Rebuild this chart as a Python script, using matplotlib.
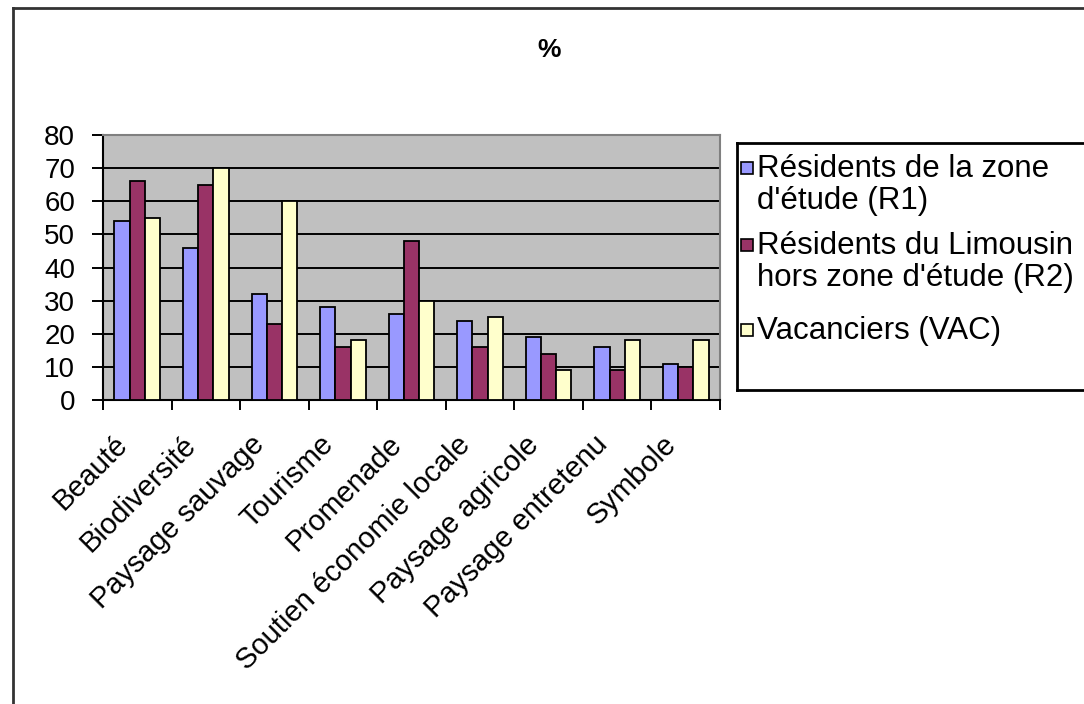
import numpy as np
import matplotlib
matplotlib.use("Agg")
import matplotlib.pyplot as plt
import matplotlib.patches as patches
from matplotlib.lines import Line2D
from matplotlib.transforms import ScaledTranslation

plt.rcParams["font.family"] = ["Liberation Sans", "DejaVu Sans"]

# Données (%)
categories = [
    "Beauté", "Biodiversité", "Paysage sauvage", "Tourisme", "Promenade",
    "Soutien économie locale", "Paysage agricole", "Paysage entretenu", "Symbole",
]
series_labels = [
    "Résidents de la zone\nd'étude (R1)",
    "Résidents du Limousin\nhors zone d'étude (R2)",
    "Vacanciers (VAC)",
]
r1 = [54, 46, 32, 28, 26, 24, 19, 16, 11]
r2 = [66, 65, 23, 16, 48, 16, 14, 9, 10]
vac = [55, 70, 60, 18, 30, 25, 9, 18, 18]
y_ticks = [0, 10, 20, 30, 40, 50, 60, 70, 80]

colors = ["#9999FF", "#993366", "#FFFFCC"]

W, H = 1084, 704
fig = plt.figure(figsize=(W / 100, H / 100), dpi=100)
fig.patch.set_facecolor("white")


def px(x, y):
    """pixel (haut-gauche) -> coordonnées figure"""
    return x / W, 1 - y / H


# cadre extérieur du graphique (gauche et haut)
fig.add_artist(Line2D([12.5 / W, 12.5 / W], [0, 1 - 8 / H], color="#333333", lw=2))
fig.add_artist(Line2D([12.5 / W, 1], [1 - 8 / H, 1 - 8 / H], color="#333333", lw=2))

# zone de tracé
left, top, right, bottom = 103, 135, 720, 400
ax = fig.add_axes([left / W, 1 - bottom / H, (right - left) / W, (bottom - top) / H])
ax.set_facecolor("#C0C0C0")

x = np.arange(len(categories))
bw = 1 / 4.5
for i, (vals, col) in enumerate(zip([r1, r2, vac], colors)):
    ax.bar(x + (i - 1) * bw, vals, width=bw, color=col, edgecolor="black",
           linewidth=1.3, zorder=3)

ax.set_xlim(-0.5, len(categories) - 0.5)
ax.set_ylim(0, 80)
ax.set_yticks(y_ticks)
ax.set_yticklabels([str(v) for v in y_ticks], fontsize=20)
for v in y_ticks[1:-1]:
    ax.axhline(v, color="black", lw=1.4, zorder=1)

# graduations aux limites des catégories, libellés au centre
ax.set_xticks(x)
ax.set_xticklabels(categories, rotation=45, ha="right", va="center",
                   rotation_mode="anchor", fontsize=21)
ax.set_xticks(np.arange(len(categories) + 1) - 0.5, minor=True)
ax.tick_params(axis="x", which="major", length=0, pad=29)
ax.tick_params(axis="x", which="minor", length=7, width=1.4, color="black")
ax.tick_params(axis="y", length=8, width=1.4, pad=12, color="black")
for lab in ax.get_xticklabels():
    lab.set_transform(lab.get_transform() + ScaledTranslation(-10 / 72, 0, fig.dpi_scale_trans))

for side in ["left", "bottom"]:
    ax.spines[side].set_color("black")
    ax.spines[side].set_linewidth(1.5)
for side in ["top", "right"]:
    ax.spines[side].set_color("#808080")
    ax.spines[side].set_linewidth(1.5)

# titre
fig.text(*px(549, 50), "%", fontsize=19, fontweight="bold", ha="center", va="center")

# légende
lx0, ly0, ly1 = 737, 143, 390
fig.add_artist(Line2D([lx0 / W, lx0 / W], [1 - ly0 / H, 1 - ly1 / H], color="black", lw=2))
fig.add_artist(Line2D([lx0 / W, 1], [1 - ly0 / H, 1 - ly0 / H], color="black", lw=2))
fig.add_artist(Line2D([lx0 / W, 1], [1 - ly1 / H, 1 - ly1 / H], color="black", lw=2))

entry_y = [168, 245, 330]
for lab, col, ey in zip(series_labels, colors, entry_y):
    sq = patches.Rectangle(px(741, ey + 6), 12 / W, 12 / H, transform=fig.transFigure,
                           facecolor=col, edgecolor="black", linewidth=1.2)
    fig.add_artist(sq)
    fig.text(*px(757, ey - 14), lab, fontsize=22.5, ha="left", va="top",
             linespacing=1.08)

fig.savefig("out.png", dpi=100)
